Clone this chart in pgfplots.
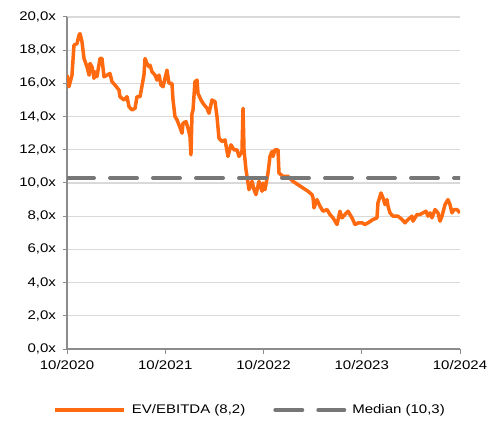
\documentclass[border=0pt]{standalone}
\usepackage{pgfplots}
\pgfplotsset{compat=1.18}
\usepackage{fontspec}
\setmainfont{Liberation Sans}[FakeStretch=1.2]
\definecolor{evorange}{HTML}{FF6A10}
\definecolor{medgray}{HTML}{777777}
\definecolor{axgray}{HTML}{8C8C8C}
\definecolor{gridgray}{HTML}{D9D9D9}
\begin{document}
\begin{tikzpicture}
\useasboundingbox (0,0) rectangle (504bp,421bp);
\begin{axis}[
  at={(67bp,72bp)}, anchor=south west,
  scale only axis, width=393bp, height=332bp,
  xmin=0, xmax=48, ymin=0, ymax=20,
  axis x line*=bottom, axis y line*=left,
  axis line style={axgray, line width=1.2bp, -},
  xtick={0,12,24,36,48},
  xticklabels={10/2020,10/2021,10/2022,10/2023,10/2024},
  ytick={0,2,...,20},
  yticklabel={\pgfmathprintnumber[fixed,fixed zerofill,precision=1,use comma,assume math mode=true]{\tick}x},
  tick align=outside, major tick length=4.5bp,
  tick style={axgray, line width=1bp},
  ymajorgrids, grid style={gridgray, line width=1.2bp},
  tick label style={font=\fontsize{12.5bp}{14bp}\selectfont, text=black},
  xticklabel style={yshift=-3bp},
  yticklabel style={xshift=-3bp},
  legend style={at={(0.466,-0.184)}, anchor=center, draw=none, fill=none,
    font=\fontsize{12.5bp}{14bp}\selectfont, legend columns=2,
    /tikz/every odd column/.append style={column sep=4bp},
    /tikz/every even column/.append style={column sep=26bp}},
  legend image code/.code={\draw[#1] (0bp,0bp) -- (69bp,0bp);},
]
% EV/EBITDA multiple, x in months since 10/2020
\addplot[evorange, line width=3.5bp, line join=round] coordinates {
(0.00,16.5)(0.24,15.8)(0.61,16.5)(0.85,18.3)(1.22,18.4)(1.47,18.9)(1.59,19.0)(1.83,18.5)
(2.08,17.5)(2.44,17.0)(2.69,16.5)(2.81,17.2)(3.05,17.0)(3.30,16.3)(3.42,16.7)(3.66,16.4)
(4.03,17.5)(4.27,17.5)(4.52,16.4)(4.89,16.5)(5.25,16.6)(5.50,16.1)(5.86,15.9)(6.35,15.6)
(6.47,15.2)(6.96,15.0)(7.33,15.2)(7.57,14.6)(7.94,14.4)(8.31,14.5)(8.55,15.2)(8.92,15.2)
(9.40,16.5)(9.53,17.5)(9.77,17.2)(10.02,17.0)(10.14,17.1)(10.38,16.7)(10.75,16.5)(10.99,16.2)
(11.24,16.5)(11.48,15.9)(11.73,15.8)(12.21,16.8)(12.46,16.0)(12.82,16.0)(12.95,15.0)
(13.19,14.0)(13.44,13.8)(13.68,13.5)(14.05,13.0)(14.17,13.6)(14.53,13.7)(14.78,13.3)
(15.02,12.8)(15.14,11.7)(15.27,14.2)(15.39,14.4)(15.63,16.1)(15.88,16.2)(16.00,15.4)
(16.37,15.0)(16.61,14.8)(17.10,14.5)(17.34,14.2)(17.71,15.0)(18.08,14.9)(18.32,14.0)
(18.56,12.7)(18.93,12.5)(19.30,12.6)(19.66,11.6)(20.03,12.3)(20.40,12.0)(20.76,12.0)
(21.01,11.6)(21.37,11.9)(21.50,14.5)(21.62,12.0)(21.86,10.8)(22.11,10.0)(22.23,9.6)
(22.60,10.1)(22.84,9.6)(23.08,9.3)(23.45,10.1)(23.82,9.5)(23.94,10.0)(24.18,9.6)
(24.55,10.6)(24.79,11.6)(25.04,11.9)(25.16,11.6)(25.40,12.0)(25.77,12.0)(25.89,10.6)
(26.38,10.4)(26.99,10.4)(27.60,10.1)(28.21,9.9)(28.82,9.7)(29.44,9.5)(29.92,9.3)(30.05,9.1)
(30.17,8.5)(30.53,9.0)(30.90,8.6)(31.27,8.3)(31.76,8.4)(32.12,8.1)(32.49,7.9)(32.98,7.5)
(33.34,8.3)(33.59,7.9)(33.95,8.1)(34.32,8.3)(34.81,7.9)(35.18,7.5)(35.60,7.6)(36.03,7.6)
(36.40,7.5)(36.76,7.6)(37.37,7.8)(37.86,7.9)(37.98,8.8)(38.35,9.4)(38.60,9.1)(38.84,8.7)
(39.08,9.0)(39.21,8.6)(39.45,8.2)(39.82,8.0)(40.43,8.0)(40.92,7.8)(41.28,7.6)(41.65,7.8)
(42.14,8.0)(42.26,7.7)(42.75,8.1)(43.11,8.1)(43.48,8.2)(43.85,8.3)(44.09,8.0)(44.34,8.2)
(44.58,7.9)(44.95,8.4)(45.31,8.2)(45.56,7.7)(45.80,8.0)(46.17,8.7)(46.53,9.0)(46.78,8.7)
(47.02,8.2)(47.27,8.4)(47.63,8.4)(48.00,8.2)
};
\addlegendentry{EV/EBITDA (8,2)}
% median of the period
\addplot[medgray, line width=4bp, line cap=round, dash pattern=on 27bp off 16bp] coordinates {(0,10.3)(48,10.3)};
\addlegendentry{Median (10,3)}
\end{axis}
\end{tikzpicture}
\end{document}
